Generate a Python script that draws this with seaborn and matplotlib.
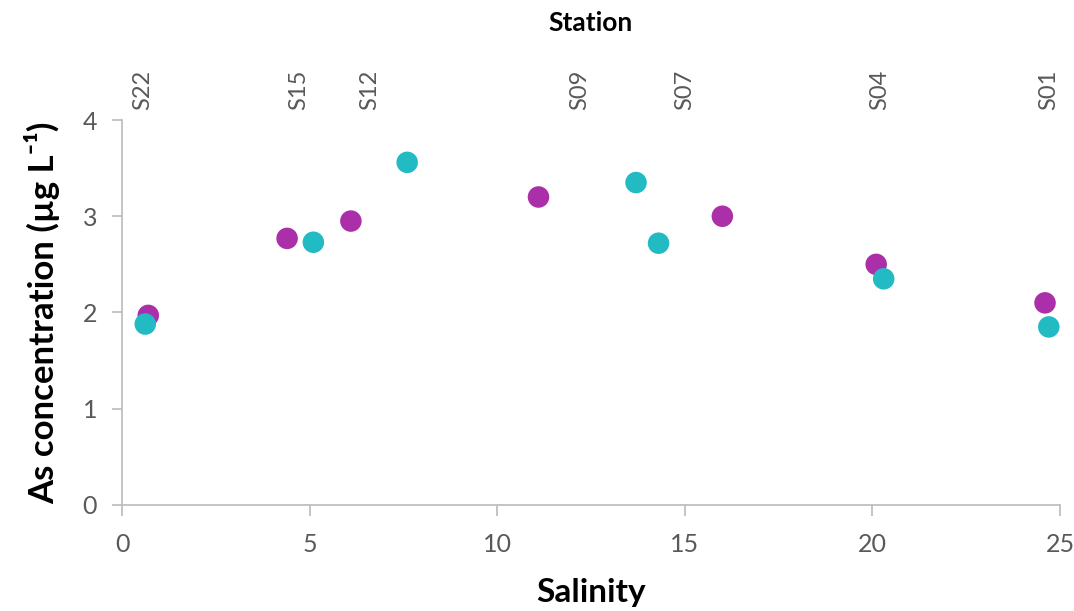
import matplotlib
matplotlib.use("Agg")
import matplotlib.pyplot as plt
import seaborn as sns
import pandas as pd

# Sampling campaigns: salinity and dissolved As
salinity_a = [0.70, 4.4, 6.1, 11.1, 16.0, 20.1, 24.6]
arsenic_a = [1.97, 2.77, 2.95, 3.20, 3.00, 2.50, 2.10]
salinity_b = [0.62, 5.1, 7.6, 13.7, 14.3, 20.3, 24.7]
arsenic_b = [1.88, 2.73, 3.56, 3.35, 2.72, 2.35, 1.85]

# Station positions along the salinity gradient
stations = ["S22", "S15", "S12", "S09", "S07", "S04", "S01"]
station_salinity = [0.55, 4.7, 6.6, 12.2, 15.0, 20.2, 24.7]

x_ticks = [0, 5, 10, 15, 20, 25]
y_ticks = [0, 1, 2, 3, 4]

df = pd.DataFrame({
    "Salinity": salinity_a + salinity_b,
    "As": arsenic_a + arsenic_b,
    "Campaign": ["A"] * len(salinity_a) + ["B"] * len(salinity_b),
})

sns.set_theme(style="white")
plt.rcParams["font.family"] = ["Lato", "DejaVu Sans"]

grey_text = "#595959"
grey_line = "#bfbfbf"

fig = plt.figure(figsize=(10.74, 6.11), dpi=100)
ax = fig.add_axes([0.1136, 0.1735, 0.8734, 0.6301])

sns.scatterplot(data=df, x="Salinity", y="As", hue="Campaign",
                palette={"A": "#ab2fa8", "B": "#22bac3"},
                s=240, edgecolor="none", legend=False, ax=ax, zorder=3)

ax.set_xlim(0, 25)
ax.set_ylim(0, 4)
ax.set_xticks(x_ticks)
ax.set_yticks(y_ticks)
ax.set_xticklabels([str(t) for t in x_ticks], fontsize=18)
ax.set_yticklabels([str(t) for t in y_ticks], fontsize=18)

for side in ["top", "right"]:
    ax.spines[side].set_visible(False)
for side in ["left", "bottom"]:
    ax.spines[side].set_color(grey_line)
    ax.spines[side].set_linewidth(1.3)

ax.tick_params(axis="x", which="major", direction="out", length=8, width=1.3,
               color=grey_line, labelcolor=grey_text, pad=12, bottom=True)
ax.tick_params(axis="y", which="major", direction="out", length=7, width=1.3,
               color=grey_line, labelcolor=grey_text, pad=11, left=True)

ax.set_xlabel("Salinity", fontsize=24, fontweight="bold", color="black", labelpad=16)
ax.set_ylabel("As concentration (µg L⁻¹)", fontsize=25,
              fontweight="bold", color="black", labelpad=16)

# Station labels on a secondary top axis
top = ax.secondary_xaxis("top")
top.set_xticks(station_salinity)
top.set_xticklabels(stations, rotation=90, fontsize=17, color=grey_text)
top.tick_params(length=0, pad=7)
top.spines["top"].set_visible(False)
top.set_xlabel("Station", fontsize=19, fontweight="bold", color="black", labelpad=28)

fig.savefig("out.png", dpi=100)
